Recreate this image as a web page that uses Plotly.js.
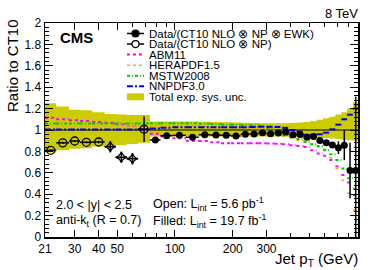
<!DOCTYPE html>
<html>
<head>
<meta charset="utf-8">
<script src="https://cdn.plot.ly/plotly-3.0.1.min.js"></script>
<style>html,body{margin:0;padding:0;background:#fff;}#chart{width:374px;height:270px;}</style>
</head>
<body>
<div id="chart"></div>
<script>
// ---- data ----
const binEdges = [21,24,28,32,37,43,49,56,64,74,84,97,114,133,153,174,196,220,245,272,300,330,362,395,430,468,507,548,592,638,686,737,790,846,905];

// open points: first 9 bins (21-74 GeV), L = 5.6 pb^-1
const openRatio = [0.81,0.88,0.897,0.885,0.888,0.844,0.745,0.732,1.007];
const openErr   = [0.01,0.01,0.01,0.01,0.012,0.035,0.045,0.045,0.12];

// filled points: bins 74-905 GeV, L = 19.7 fb^-1
const filledRatio = [0.907,0.947,0.95,0.932,0.956,0.953,0.95,0.944,0.96,0.963,0.975,0.965,0.972,0.981,0.955,0.957,0.933,0.939,0.902,0.882,0.86,0.835,0.858,0.622,0.622];
const filledErr   = [0.006,0.006,0.006,0.006,0.006,0.006,0.006,0.006,0.006,0.006,0.006,0.006,0.006,0.006,0.008,0.008,0.01,0.01,0.012,0.015,0.028,0.06,0.14,0.26,0.69];

// total exp. sys. unc. (relative, up / down)
const sysUp   = [0.25,0.22,0.19,0.185,0.165,0.15,0.145,0.14,0.14,0.08,0.08,0.08,0.08,0.078,0.075,0.072,0.07,0.068,0.065,0.063,0.062,0.062,0.062,0.065,0.07,0.075,0.085,0.095,0.11,0.125,0.145,0.165,0.2,0.26];
const sysDown = [0.21,0.19,0.175,0.17,0.155,0.145,0.14,0.13,0.12,0.06,0.06,0.06,0.06,0.06,0.06,0.06,0.06,0.06,0.06,0.06,0.06,0.06,0.06,0.062,0.064,0.066,0.07,0.072,0.075,0.08,0.085,0.09,0.095,0.1];

// PDF ratios to CT10
const abm11  = [1.115,1.10,1.09,1.085,1.075,1.065,1.05,1.04,1.01,0.966,0.94,0.922,0.9,0.897,0.885,0.876,0.876,0.876,0.876,0.876,0.874,0.872,0.866,0.857,0.85,0.84,0.81,0.78,0.76,0.72,0.66,0.58,0.51,0.39];
const hera15 = [1.04,1.04,1.04,1.04,1.04,1.04,1.04,1.04,1.04,1.04,1.04,1.04,1.04,1.035,1.035,1.035,1.025,1.025,1.02,1.01,0.99,0.965,0.945,0.925,0.905,0.885,0.87,0.845,0.82,0.74,0.64,0.53,0.41,0.25];
const mstw08 = [1.06,1.06,1.06,1.06,1.06,1.06,1.06,1.06,1.06,1.062,1.062,1.062,1.062,1.058,1.055,1.052,1.048,1.046,1.045,1.04,1.02,0.985,0.95,0.932,0.915,0.89,0.866,0.848,0.81,0.773,0.72,0.64,0.55,0.45];
const nnpdf30= [1.005,1.005,1.005,1.005,1.005,1.005,1.005,1.005,1.005,1.015,1.02,1.025,1.025,1.025,1.025,1.025,1.025,1.025,1.028,1.03,1.03,1.028,1.02,1.0,0.985,0.955,0.958,0.96,0.975,1.006,1.05,1.10,1.143,1.2];

const unity = 1;

// ---- helpers ----
const nOpen = openRatio.length;
const lo = binEdges.slice(0, -1), hi = binEdges.slice(1);
const centers = lo.map((l, i) => (l + hi[i]) / 2);

function segments(vals) {
  const x = [], y = [];
  vals.forEach((v, i) => { x.push(lo[i], hi[i], null); y.push(v, v, null); });
  return {x, y};
}
function steps(vals) { return {x: binEdges.slice(), y: vals.concat([vals[vals.length - 1]])}; }

const bandLo = steps(sysDown.map(d => unity - d));
const bandHi = steps(sysUp.map(u => unity + u));

const openX = centers.slice(0, nOpen);
const filledX = centers.slice(nOpen);

const traces = [];
traces.push({x: bandLo.x, y: bandLo.y, mode: 'lines', line: {shape: 'hv', width: 0, color: 'rgba(0,0,0,0)'}, hoverinfo: 'skip'});
traces.push({x: bandHi.x, y: bandHi.y, mode: 'lines', line: {shape: 'hv', width: 0, color: 'rgba(0,0,0,0)'}, fill: 'tonexty', fillcolor: '#cccc00', hoverinfo: 'skip'});
traces.push({x: [binEdges[0], binEdges[binEdges.length - 1]], y: [unity, unity], mode: 'lines', line: {color: '#000', width: 1}});

const curveDefs = [
  [abm11,  '#ff00ff', 'dot', 2],
  [hera15, '#ff9933', 'dot', 1.5],
  [mstw08, '#00cc00', '3px,2px,1px,2px', 2],
  [nnpdf30,'#0000ff', '6px,2px,2px,2px', 2]
];
curveDefs.forEach(([vals, col, dash, w]) => {
  const s = segments(vals);
  traces.push({x: s.x, y: s.y, mode: 'lines', connectgaps: false, line: {color: col, dash: dash, width: w}});
});

traces.push({
  x: openX, y: openRatio, mode: 'markers',
  marker: {symbol: openRatio.map((v, i) => (i >= 5 && i <= 7) ? 'star-diamond-open' : 'circle-open'), size: 8, color: '#000', line: {width: 1.3, color: '#000'}},
  error_x: {type: 'data', symmetric: false, array: openX.map((c, i) => hi[i] - c), arrayminus: openX.map((c, i) => c - lo[i]), width: 0, thickness: 1.5, color: '#000'},
  error_y: {type: 'data', array: openErr, width: 0, thickness: 1.5, color: '#000'}
});
traces.push({
  x: filledX, y: filledRatio, mode: 'markers',
  marker: {symbol: 'circle', size: 7, color: '#000'},
  error_x: {type: 'data', symmetric: false, array: filledX.map((c, i) => hi[i + nOpen] - c), arrayminus: filledX.map((c, i) => c - lo[i + nOpen]), width: 0, thickness: 1.5, color: '#000'},
  error_y: {type: 'data', array: filledErr, width: 0, thickness: 1.5, color: '#000'}
});

// ---- layout ----
const W = 374, H = 270, ML = 45, MR = 16, MT = 23, MB = 33;
const PW = W - ML - MR, PH = H - MT - MB;
const px = p => (p - ML) / PW;
const py = p => (H - MB - p) / PH;
const FONT = 'Liberation Sans, Arial, Helvetica, sans-serif';

const legendItems = [
  ['Data/(CT10 NLO \u2297 NP \u2297 EWK)', 'filled'],
  ['Data/(CT10 NLO \u2297 NP)', 'open'],
  ['ABM11', 0], ['HERAPDF1.5', 1], ['MSTW2008', 2], ['NNPDF3.0', 3],
  ['Total exp. sys. unc.', 'band']
];
const shapes = [], annotations = [];
const symX0 = 127, symX1 = 144, txtX = 148;
legendItems.forEach(([label, kind], i) => {
  const yc = 33.5 + 10.55 * i;
  annotations.push({xref: 'paper', yref: 'paper', x: px(txtX), y: py(yc), xanchor: 'left', yanchor: 'middle', text: label, showarrow: false, borderpad: 0, font: {family: FONT, size: 11.5, color: '#000'}});
  if (kind === 'filled' || kind === 'open') {
    shapes.push({type: 'line', xref: 'paper', yref: 'paper', x0: px(symX0), x1: px(symX1), y0: py(yc), y1: py(yc), line: {color: '#000', width: 1.5}});
    shapes.push({type: 'circle', xref: 'paper', yref: 'paper', xsizemode: 'pixel', ysizemode: 'pixel', xanchor: px((symX0 + symX1) / 2), yanchor: py(yc), x0: -3.5, x1: 3.5, y0: -3.5, y1: 3.5,
      fillcolor: kind === 'filled' ? '#000' : '#fff', line: {color: '#000', width: 1.2}});
  } else if (kind === 'band') {
    shapes.push({type: 'rect', xref: 'paper', yref: 'paper', x0: px(symX0), x1: px(symX1), y0: py(yc + 3.5), y1: py(yc - 3.5), fillcolor: '#cccc00', line: {width: 0}});
  } else {
    const d = curveDefs[kind];
    shapes.push({type: 'line', xref: 'paper', yref: 'paper', x0: px(symX0), x1: px(symX1), y0: py(yc), y1: py(yc), line: {color: d[1], width: d[3], dash: d[2]}});
  }
});

annotations.push({xref: 'paper', yref: 'paper', x: px(58), y: py(38), xanchor: 'left', yanchor: 'middle', text: '<b>CMS</b>', showarrow: false, font: {family: FONT, size: 15, color: '#000'}});
annotations.push({xref: 'paper', yref: 'paper', x: px(360), y: py(13), xanchor: 'right', yanchor: 'middle', text: '8 TeV', showarrow: false, font: {family: FONT, size: 13, color: '#000'}});
annotations.push({xref: 'paper', yref: 'paper', x: px(54), y: py(205), xanchor: 'left', yanchor: 'middle', text: '2.0 < |y| < 2.5', showarrow: false, font: {family: FONT, size: 12.5, color: '#000'}});
annotations.push({xref: 'paper', yref: 'paper', x: px(54), y: py(221), xanchor: 'left', yanchor: 'middle', text: 'anti-k<sub>t</sub> (R = 0.7)', showarrow: false, font: {family: FONT, size: 12.5, color: '#000'}});
annotations.push({xref: 'paper', yref: 'paper', x: px(151), y: py(204), xanchor: 'left', yanchor: 'middle', text: 'Open: L<sub>int</sub> = 5.6 pb<sup>-1</sup>', showarrow: false, font: {family: FONT, size: 12.5, color: '#000'}});
annotations.push({xref: 'paper', yref: 'paper', x: px(151), y: py(221), xanchor: 'left', yanchor: 'middle', text: 'Filled: L<sub>int</sub> = 19.7 fb<sup>-1</sup>', showarrow: false, font: {family: FONT, size: 12.5, color: '#000'}});
annotations.push({xref: 'paper', yref: 'paper', x: px(360), y: py(259), xanchor: 'right', yanchor: 'middle', text: 'Jet p<sub>T</sub> (GeV)', showarrow: false, font: {family: FONT, size: 15, color: '#000'}});
annotations.push({xref: 'paper', yref: 'paper', x: px(12), y: py(66), xanchor: 'center', yanchor: 'middle', textangle: -90, text: 'Ratio to CT10', showarrow: false, font: {family: FONT, size: 15, color: '#000'}});

const xTicks = [21, 30, 40, 50, 100, 200, 300];
const yTicks = [0, 0.2, 0.4, 0.6, 0.8, 1, 1.2, 1.4, 1.6, 1.8, 2];

const layout = {
  width: W, height: H,
  margin: {l: ML, r: MR, t: MT, b: MB, pad: 0},
  paper_bgcolor: '#fff', plot_bgcolor: '#fff',
  showlegend: false,
  font: {family: FONT, size: 12, color: '#000'},
  xaxis: {
    type: 'log', range: [Math.log10(21), Math.log10(900)],
    tickmode: 'array', tickvals: xTicks, ticktext: xTicks.map(String),
    ticks: 'inside', ticklen: 7, tickwidth: 1, tickcolor: '#000',
    showline: true, linecolor: '#000', linewidth: 1.5, mirror: 'allticks',
    showgrid: false, zeroline: false,
    tickfont: {family: FONT, size: 12, color: '#000'},
    minor: {tickmode: 'array', tickvals: [60, 70, 80, 90, 400, 500, 600, 700, 800, 900], ticks: 'inside', ticklen: 4, tickcolor: '#000', showgrid: false}
  },
  yaxis: {
    range: [0, 2], tickmode: 'array', tickvals: yTicks, ticktext: yTicks.map(String),
    ticks: 'inside', ticklen: 8, tickwidth: 1, tickcolor: '#000',
    showline: true, linecolor: '#000', linewidth: 1.5, mirror: 'allticks',
    showgrid: false, zeroline: false,
    tickfont: {family: FONT, size: 12, color: '#000'},
    minor: {dtick: 0.04, tick0: 0, ticks: 'inside', ticklen: 4, tickcolor: '#000', showgrid: false}
  },
  shapes: shapes,
  annotations: annotations
};

Plotly.newPlot('chart', traces, layout, {displayModeBar: false, staticPlot: true});
</script>
</body>
</html>
